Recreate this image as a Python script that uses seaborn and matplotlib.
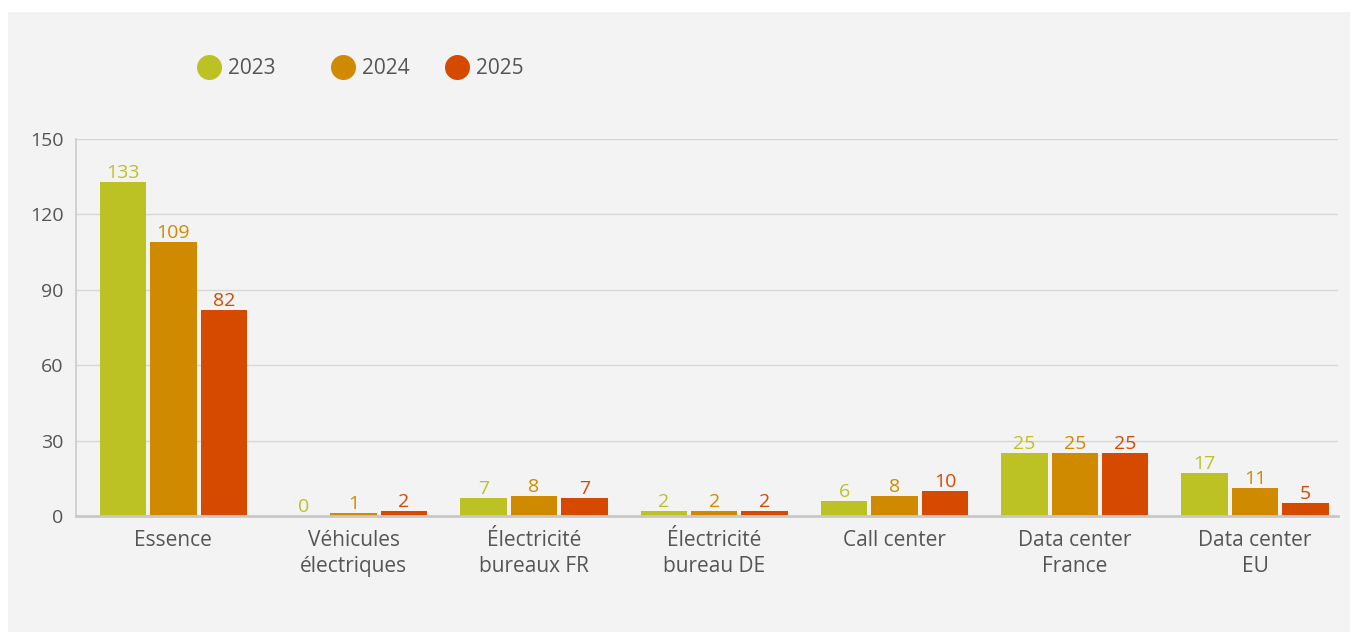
import pandas as pd
import numpy as np
import seaborn as sns
import matplotlib.pyplot as plt
from matplotlib.patches import Rectangle
from matplotlib.lines import Line2D

# Chart data
categories = ['Essence', 'Véhicules\nélectriques', 'Électricité\nbureaux FR',
              'Électricité\nbureau DE', 'Call center', 'Data center\nFrance',
              'Data center\nEU']
years = ['2023', '2024', '2025']
values_2023 = [133, 0, 7, 2, 6, 25, 17]
values_2024 = [109, 1, 8, 2, 8, 25, 11]
values_2025 = [82, 2, 7, 2, 10, 25, 5]
colors = ['#BDC224', '#D08A00', '#D64A00']

df = pd.DataFrame({
    'category': categories * 3,
    'year': [y for y in years for _ in categories],
    'value': values_2023 + values_2024 + values_2025,
})

sns.set_theme(style='white')
plt.rcParams['font.family'] = ['Open Sans', 'DejaVu Sans']
text_color = '#555555'

fig = plt.figure(figsize=(13.59, 6.32), dpi=100)
fig.patch.set_facecolor('white')
# light grey card behind the chart
fig.patches.append(Rectangle((8 / 1359, 0), 1342 / 1359, 620 / 632,
                             transform=fig.transFigure, facecolor='#F3F3F3',
                             edgecolor='none', zorder=-10))

ax = fig.add_axes([76 / 1359, 1 - 516 / 632, 1262 / 1359, 377 / 632])
ax.set_facecolor('none')

sns.barplot(data=df, x='category', y='value', hue='year', palette=colors,
            width=0.84, gap=0.08, saturation=1, linewidth=0, ax=ax, legend=False)

for container, col, vals in zip(ax.containers, colors,
                                [values_2023, values_2024, values_2025]):
    ax.bar_label(container, labels=[str(v) for v in vals], padding=0,
                 color=col, fontsize=14)

ax.set_ylim(0, 150)
ax.set_yticks([0, 30, 60, 90, 120, 150])
ax.set_xlim(-0.54, len(categories) - 0.54)
ax.yaxis.grid(True, color='#D6D6D6', linewidth=1)
ax.set_axisbelow(True)
for s in ['top', 'right']:
    ax.spines[s].set_visible(False)
ax.spines['left'].set_color('#CCCCCC')
ax.spines['bottom'].set_color('#C8C8C8')
ax.spines['bottom'].set_linewidth(2)
ax.tick_params(axis='y', length=0, labelsize=14, colors=text_color, pad=9)
ax.tick_params(axis='x', length=0, labelsize=15, colors=text_color, pad=10)
for lbl in ax.get_xticklabels():
    lbl.set_linespacing(1.3)
ax.set_xlabel('')
ax.set_ylabel('')

# legend entries placed one by one, like the original
legend_x = [196, 330, 444]
for x, year, c in zip(legend_x, years, colors):
    h = Line2D([0], [0], marker='o', linestyle='none', markersize=18,
               markerfacecolor=c, markeredgecolor='none')
    fig.legend([h], [year], loc='center left',
               bbox_to_anchor=(x / 1359, 1 - 69 / 632), frameon=False,
               fontsize=15, handletextpad=0.35, borderpad=0,
               borderaxespad=0, labelcolor=text_color, handlelength=1.2)

fig.savefig('out.png', dpi=100)
